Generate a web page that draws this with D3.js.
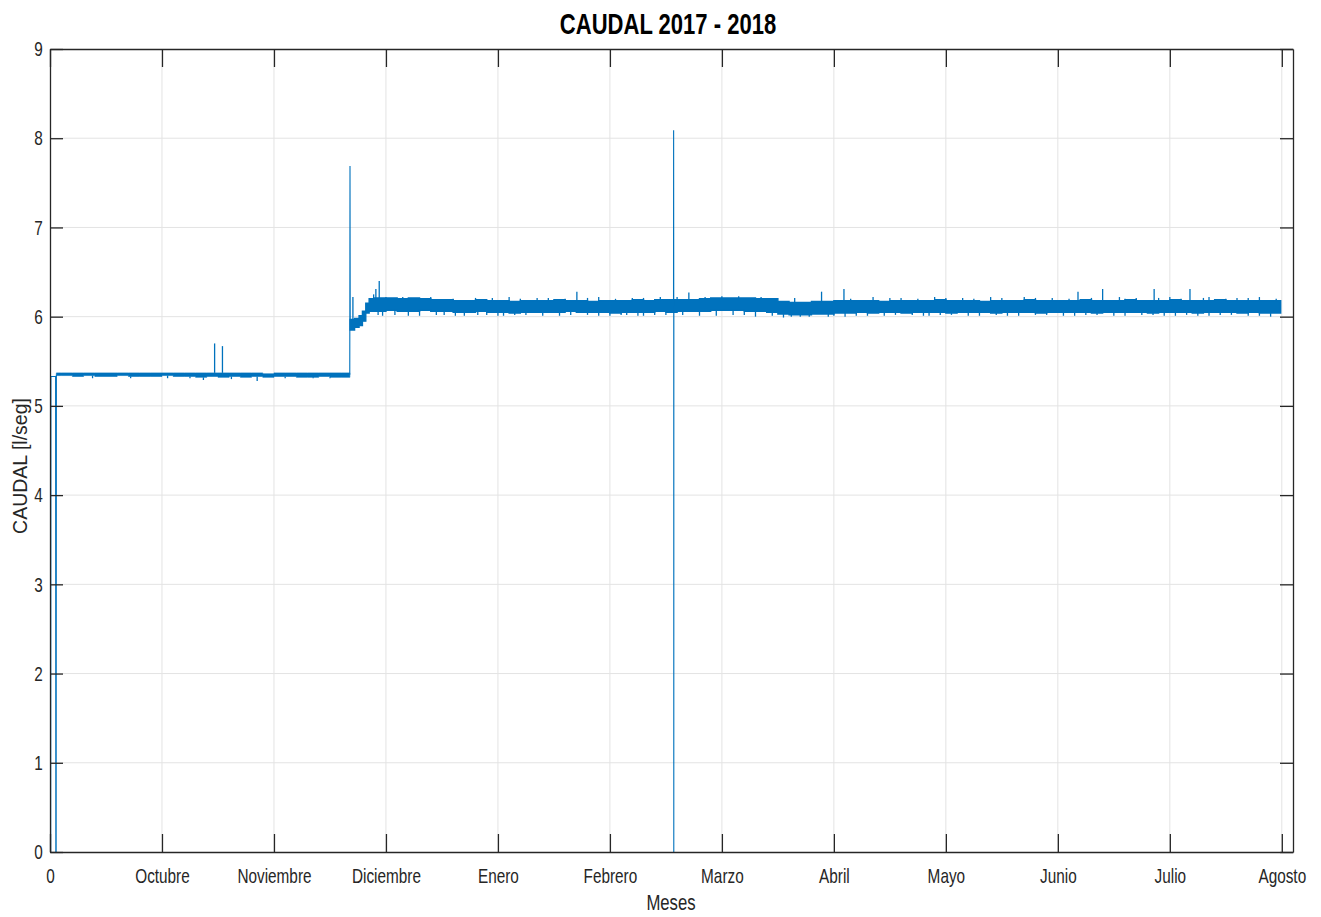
<!DOCTYPE html>
<html>
<head>
<meta charset="utf-8">
<script src="https://cdn.jsdelivr.net/npm/d3@7"></script>
<style>
body { margin: 0; background: #fff; }
</style>
</head>
<body>
<svg id="chart"></svg>
<script>

// tick labels
var monthLabels = ["0", "Octubre", "Noviembre", "Diciembre", "Enero", "Febrero", "Marzo", "Abril", "Mayo", "Junio", "Julio", "Agosto"];
var yTickValues = [0, 1, 2, 3, 4, 5, 6, 7, 8, 9];

// main trace key points (start drop-outs, the step of Dec and the two tall spikes), null = break
var traceT = [0.006, 0.008, 0.05, 0.052, 0.055, 0.057, null, 2.677, 2.679, 2.681, null, 5.568, 5.569, 5.570, 5.5705, 5.571];
var traceV = [0, 5.33, 5.33, 0, 0, 5.35, null, 5.35, 7.69, 5.88, null, 6.12, 8.09, 6.12, 0, 6.12];

// Sep - Nov noise band (min / max)
var band1T  = [0.057, 0.1, 0.2, 0.3, 0.4, 0.5, 0.6, 0.7, 0.8, 0.9, 1.0, 1.1, 1.2, 1.3, 1.4, 1.5, 1.6, 1.7, 1.8, 1.9, 2.0, 2.1, 2.2, 2.3, 2.4, 2.5, 2.6, 2.678];
var band1Hi = [5.37, 5.37, 5.37, 5.37, 5.37, 5.37, 5.37, 5.37, 5.37, 5.37, 5.37, 5.37, 5.37, 5.37, 5.37, 5.37, 5.37, 5.37, 5.37, 5.36, 5.37, 5.37, 5.37, 5.37, 5.37, 5.37, 5.37, 5.37];
var band1Lo = [5.34, 5.34, 5.33, 5.34, 5.33, 5.33, 5.34, 5.33, 5.33, 5.33, 5.34, 5.33, 5.33, 5.32, 5.33, 5.32, 5.33, 5.32, 5.33, 5.32, 5.33, 5.33, 5.32, 5.32, 5.33, 5.32, 5.32, 5.32];

// Dec - Aug noise band (min / max)
var band2T = [2.68, 2.72, 2.76, 2.79, 2.82, 2.85,
  2.9, 3.0, 3.1, 3.2, 3.3, 3.4, 3.5, 3.6, 3.7, 3.8, 3.9, 4.0, 4.1, 4.2, 4.3, 4.4, 4.5, 4.6, 4.7, 4.8, 4.9,
  5.0, 5.1, 5.2, 5.3, 5.4, 5.5, 5.6, 5.7, 5.8, 5.9, 6.0, 6.1, 6.2, 6.3, 6.4, 6.5, 6.6, 6.7, 6.8, 6.9,
  7.0, 7.1, 7.2, 7.3, 7.4, 7.5, 7.6, 7.7, 7.8, 7.9, 8.0, 8.1, 8.2, 8.3, 8.4, 8.5, 8.6, 8.7, 8.8, 8.9,
  9.0, 9.1, 9.2, 9.3, 9.4, 9.5, 9.6, 9.7, 9.8, 9.9, 10.0, 10.1, 10.2, 10.3, 10.4, 10.5, 10.6, 10.7, 10.8, 10.9, 10.99];
var band2Hi = [5.97, 5.98, 6.01, 6.06, 6.15, 6.20,
  6.21, 6.21, 6.20, 6.21, 6.20, 6.19, 6.19,
  6.18, 6.18, 6.19, 6.18, 6.18, 6.17, 6.18, 6.18, 6.18, 6.19, 6.18, 6.18, 6.17, 6.18, 6.18, 6.18, 6.19, 6.18, 6.19, 6.19,
  6.19, 6.19, 6.20, 6.21, 6.21, 6.21, 6.21, 6.20, 6.20,
  6.17, 6.16, 6.16, 6.17, 6.17, 6.18, 6.18,
  6.18, 6.18, 6.17, 6.18, 6.18, 6.18, 6.18, 6.19, 6.18, 6.18, 6.18, 6.17, 6.18, 6.18, 6.18, 6.19, 6.18, 6.18, 6.18, 6.18,
  6.19, 6.18, 6.18, 6.18, 6.19, 6.18, 6.18, 6.18, 6.19, 6.18, 6.18, 6.18, 6.19, 6.18, 6.18, 6.18, 6.18, 6.18, 6.18];
var band2Lo = [5.85, 5.88, 5.90, 5.95, 6.04, 6.06,
  6.06, 6.07, 6.06, 6.06, 6.07, 6.06, 6.06,
  6.05, 6.05, 6.06, 6.05, 6.05, 6.04, 6.05, 6.05, 6.05, 6.05, 6.06, 6.05, 6.05, 6.05, 6.04, 6.05, 6.05, 6.05, 6.06, 6.05,
  6.06, 6.06, 6.06, 6.07, 6.07, 6.07, 6.06, 6.06, 6.05,
  6.03, 6.02, 6.02, 6.03, 6.03, 6.04, 6.04,
  6.05, 6.04, 6.05, 6.05, 6.04, 6.05, 6.05, 6.05, 6.04, 6.05, 6.05, 6.05, 6.04, 6.05, 6.05, 6.05, 6.04, 6.05, 6.05, 6.05,
  6.05, 6.04, 6.05, 6.05, 6.05, 6.05, 6.04, 6.05, 6.05, 6.05, 6.04, 6.05, 6.05, 6.05, 6.04, 6.05, 6.04, 6.04, 6.04];

// single excursions out of the bands
var spikeT = [0.38, 0.72, 1.05, 1.25, 1.37, 1.47, 1.54, 1.62, 1.85, 2.1, 2.35, 2.5,
  2.705, 2.89, 2.91, 2.94, 4.705, 5.705, 6.89, 7.09, 9.18, 9.40, 9.86, 10.18,
  3.15, 3.4, 3.8, 4.1, 4.35, 4.9, 5.2, 5.45, 6.0, 6.65, 7.35, 7.6, 7.9, 8.15, 8.4, 8.7, 8.95, 9.55, 9.7, 10.0, 10.35, 10.6, 10.8,
  3.0, 3.25, 3.6, 3.95, 4.2, 4.45, 4.6, 4.8, 5.05, 5.3, 5.6, 5.85, 6.15, 6.35, 7.15, 7.5, 7.75, 8.0, 8.25, 8.5, 8.8, 9.1, 9.3,
  9.6, 9.9, 10.1, 10.3, 10.5, 10.7, 10.95,
  2.97, 3.08, 3.3, 3.52, 3.7, 3.9, 4.05, 4.25, 4.55, 4.8, 5.0, 5.15, 5.3, 5.5, 5.8, 6.1, 6.3, 6.55, 6.62, 6.78, 7.0, 7.2,
  7.45, 7.7, 7.85, 8.05, 8.3, 8.55, 8.8, 9.05, 9.25, 9.5, 9.75, 9.95, 10.25, 10.45, 10.7, 10.9,
  2.93, 3.2, 3.45, 3.62, 3.82, 4.0, 4.15, 4.4, 4.65, 4.9, 5.1, 5.25, 5.4, 5.65, 5.95, 6.2, 6.45, 6.7, 6.95, 7.1, 7.3,
  7.55, 7.8, 7.95, 8.2, 8.45, 8.65, 8.9, 9.15, 9.35, 9.6, 9.85, 10.05, 10.15, 10.35, 10.55, 10.8];
var spikeV = [5.31, 5.31, 5.31, 5.31, 5.29, 5.70, 5.67, 5.30, 5.28, 5.31, 5.31, 5.31,
  6.22, 6.25, 6.31, 6.40, 6.28, 6.27, 6.28, 6.31, 6.28, 6.31, 6.31, 6.31,
  6.22, 6.22, 6.21, 6.22, 6.21, 6.22, 6.21, 6.22, 6.23, 6.21, 6.22, 6.21, 6.22, 6.21, 6.22, 6.22, 6.21, 6.22, 6.21, 6.22, 6.22, 6.21, 6.22,
  6.22, 6.21, 6.20, 6.21, 6.20, 6.21, 6.20, 6.21, 6.20, 6.21, 6.22, 6.22, 6.23, 6.22, 6.20, 6.21, 6.20, 6.21, 6.20, 6.21, 6.21, 6.20, 6.21,
  6.20, 6.21, 6.20, 6.21, 6.20, 6.21, 6.20,
  6.01, 6.02, 6.01, 6.02, 6.01, 6.02, 6.01, 6.02, 6.01, 6.02, 6.01, 6.02, 6.01, 6.02, 6.01, 6.02, 6.00, 5.99, 6.00, 6.00, 6.01, 6.01,
  6.01, 6.02, 6.01, 6.02, 6.01, 6.01, 6.02, 6.01, 6.02, 6.01, 6.02, 6.01, 6.01, 6.02, 6.01, 6.00,
  6.02, 6.01, 6.02, 6.01, 6.02, 6.01, 6.02, 6.01, 6.02, 6.01, 6.02, 6.01, 6.02, 6.02, 6.01, 6.02, 6.01, 6.00, 6.00, 6.00, 6.01,
  6.02, 6.01, 6.02, 6.01, 6.02, 6.01, 6.02, 6.01, 6.02, 6.01, 6.02, 6.01, 6.02, 6.01, 6.02, 6.01];

var W = 1321, H = 917;
var blue = "#0072bd";
var font = "'Liberation Sans', Arial, sans-serif";
var squeeze = "scale(0.73,1)";   // narrow look of the original labels

var svg = d3.select("#chart").attr("width", W).attr("height", H);

var x = d3.scaleLinear().domain([0, 11.1]).range([50, 1293]);
var y = d3.scaleLinear().domain([0, 9]).range([852, 49]);

// grid
var grid = svg.append("g");
grid.selectAll(".vg").data(d3.range(1, 12)).enter().append("line")
    .attr("x1", function(d){ return x(d); }).attr("x2", function(d){ return x(d); })
    .attr("y1", y(0)).attr("y2", y(9))
    .attr("stroke", "#e3e3e3").attr("stroke-width", 1);
grid.selectAll(".hg").data(yTickValues.slice(1, 9)).enter().append("line")
    .attr("x1", x(0)).attr("x2", x(11.1))
    .attr("y1", function(d){ return y(d); }).attr("y2", function(d){ return y(d); })
    .attr("stroke", "#e3e3e3").attr("stroke-width", 1);

// bands
function bandRows(t, lo, hi){
    var rows = [];
    for (var i = 0; i < t.length; i++) rows.push({t: t[i], lo: lo[i], hi: hi[i]});
    return rows;
}
var band1 = bandRows(band1T, band1Lo, band1Hi);
var band2 = bandRows(band2T, band2Lo, band2Hi);

var area = d3.area()
    .x(function(d){ return x(d.t); })
    .y0(function(d){ return y(d.lo); })
    .y1(function(d){ return y(d.hi); })
    .curve(d3.curveStepAfter);

[band1, band2].forEach(function(b, k){
    svg.append("path").datum(b).attr("d", area)
        .attr("fill", blue).attr("stroke", blue).attr("stroke-width", k ? 1.4 : 0.6);
});

// spikes, starting from the band they leave
function baseOf(t, v){
    var b = t < 2.68 ? band1 : band2;
    var i = Math.max(0, d3.bisectRight(b.map(function(d){ return d.t; }), t) - 1);
    return v > b[i].hi ? b[i].hi : b[i].lo;
}
svg.append("g").selectAll("line").data(spikeT).enter().append("line")
    .attr("x1", function(d){ return x(d); }).attr("x2", function(d){ return x(d); })
    .attr("y1", function(d, i){ return y(baseOf(d, spikeV[i])); })
    .attr("y2", function(d, i){ return y(spikeV[i]); })
    .attr("stroke", blue).attr("stroke-width", 1.3);

// main trace
var trace = traceT.map(function(t, i){ return {t: t, v: traceV[i]}; });
var line = d3.line()
    .defined(function(d){ return d.t !== null; })
    .x(function(d){ return x(d.t); })
    .y(function(d){ return y(d.v); });
svg.append("path").datum(trace).attr("d", line)
    .attr("fill", "none").attr("stroke", blue).attr("stroke-width", 1.1);

// axes (box with inward ticks)
var axB = svg.append("g").attr("transform", "translate(0,852)")
    .call(d3.axisBottom(x).tickValues(d3.range(12)).tickFormat(function(d){ return monthLabels[d]; })
        .tickSizeInner(-18).tickSizeOuter(0).tickPadding(16));
var axT = svg.append("g").attr("transform", "translate(0,49)")
    .call(d3.axisTop(x).tickValues(d3.range(12)).tickFormat("").tickSizeInner(-18).tickSizeOuter(0));
var axL = svg.append("g").attr("transform", "translate(50,0)")
    .call(d3.axisLeft(y).tickValues(yTickValues).tickSizeInner(-13).tickSizeOuter(0).tickPadding(10));
var axR = svg.append("g").attr("transform", "translate(1293,0)")
    .call(d3.axisRight(y).tickValues(yTickValues).tickFormat("").tickSizeInner(-13).tickSizeOuter(0));

[axB, axT, axL, axR].forEach(function(a){
    a.attr("font-family", font).attr("font-size", 21);
    a.selectAll("path, line").attr("stroke", "#262626").attr("stroke-width", 1.3);
    a.selectAll("text").attr("fill", "#262626").attr("transform", squeeze);
});

// labels
svg.append("g").attr("transform", "translate(668,34)")
  .append("text").attr("text-anchor", "middle").attr("transform", "scale(0.76,1)")
    .attr("font-family", font).attr("font-weight", "bold").attr("font-size", 29)
    .attr("fill", "#000").text("CAUDAL 2017 - 2018");
svg.append("g").attr("transform", "translate(671,910)")
  .append("text").attr("text-anchor", "middle").attr("transform", "scale(0.76,1)")
    .attr("font-family", font).attr("font-size", 22)
    .attr("fill", "#262626").text("Meses");
svg.append("text").attr("transform", "translate(27,466) rotate(-90)").attr("text-anchor", "middle")
    .attr("font-family", font).attr("font-size", 19.5)
    .attr("fill", "#262626").text("CAUDAL [l/seg]");

</script>
</body>
</html>
